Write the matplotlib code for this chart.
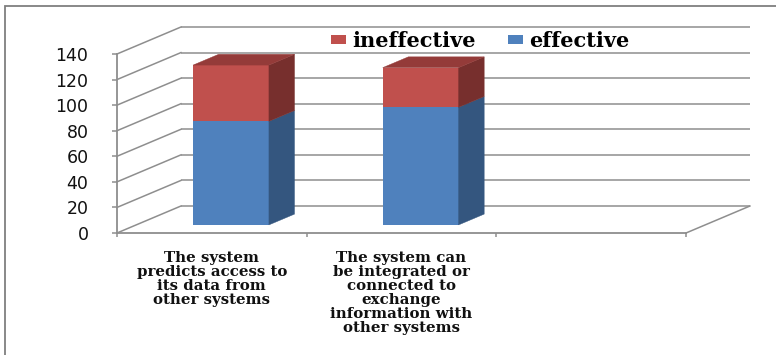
import numpy as np
import matplotlib.pyplot as plt
from matplotlib.patches import Polygon, Rectangle

# category slots along the floor (the third one is left empty)
categories = [
    "The system\npredicts access to\nits data from\nother systems",
    "The system can\nbe integrated or\nconnected to\nexchange\ninformation with\nother systems",
    "",
]
effective = [81, 92]
ineffective = [44, 31]
yticks = [0, 20, 40, 60, 80, 100, 120, 140]
series_names = ["ineffective", "effective"]

blue, blue_side = "#4F81BD", "#34567F"
red, red_side, red_top = "#C0504D", "#772F2D", "#943B39"
grid = "#8E8E8E"

# oblique depth of the chart box, in data units (categories, values)
DX, DY = 0.337, 21.1
F0, F1 = 0.3, 0.7          # depth of bar front and back faces
BW = 0.4                   # bar width

fig = plt.figure(figsize=(7.76, 3.55), dpi=100)
ax = fig.add_axes([117 / 776, 122 / 355, 569 / 776, 179 / 355])
ax.set_xlim(0, len(categories))
ax.set_ylim(0, yticks[-1])
ax.patch.set_visible(False)

# back wall gridlines and left wall diagonals
x_end = len(categories)
for v in yticks:
    ax.plot([DX, x_end + DX], [v + DY, v + DY], color=grid, lw=1.1,
            clip_on=False, zorder=1, solid_capstyle="butt")
    ax.plot([0, DX], [v, v + DY], color=grid, lw=1.1, clip_on=False, zorder=1)
# floor right edge
ax.plot([x_end, x_end + DX], [0, DY], color=grid, lw=1.1, clip_on=False, zorder=1)

# front faces of the stacked bars
xs = np.arange(len(effective)) + 0.5
xf = xs + F0 * DX
base = F0 * DY
eff = np.array(effective)
ineff = np.array(ineffective)
b_eff = ax.bar(xf, eff, width=BW, bottom=base, color=blue, lw=0, zorder=3, clip_on=False)
b_ineff = ax.bar(xf, ineff, width=BW, bottom=base + eff, color=red, lw=0, zorder=3, clip_on=False)


def face(pts, color):
    ax.add_patch(Polygon(pts, closed=True, facecolor=color, edgecolor=color,
                         lw=0.3, zorder=3, clip_on=False))


d = F1 - F0
for x, e, i in zip(xs, eff, ineff):
    xr = x + BW / 2 + F0 * DX
    xl = x - BW / 2 + F0 * DX
    for y0, y1, c in [(0, e, blue_side), (e, e + i, red_side)]:
        face([(xr, base + y0), (xr + d * DX, base + y0 + d * DY),
              (xr + d * DX, base + y1 + d * DY), (xr, base + y1)], c)
    top = base + e + i
    face([(xl, top), (xr, top), (xr + d * DX, top + d * DY),
          (xl + d * DX, top + d * DY)], red_top)

# axes styling
for side in ["top", "right"]:
    ax.spines[side].set_visible(False)
for side in ["left", "bottom"]:
    ax.spines[side].set_color(grid)
    ax.spines[side].set_linewidth(1.3)
    ax.spines[side].set_zorder(4)

ax.set_yticks(yticks)
ax.tick_params(axis="y", direction="out", length=3.6, width=1.1, color=grid,
               labelsize=12.5, pad=17, labelcolor="#111111")
for lab in ax.get_yticklabels():
    lab.set_family("DejaVu Sans")

ax.set_xticks(range(len(categories) + 1), labels=[""] * (len(categories) + 1))
ax.tick_params(axis="x", which="major", direction="out", length=3, width=1.1, color=grid)
ax.set_xticks(np.arange(len(categories)) + 0.5, labels=categories, minor=True)
ax.tick_params(axis="x", which="minor", length=0, pad=13)
for lab in ax.get_xticklabels(minor=True):
    lab.set_family("DejaVu Serif")
    lab.set_weight("bold")
    lab.set_fontsize(10.8)
    lab.set_linespacing(1.0)
    lab.set_color("#111111")

leg = ax.legend([b_ineff, b_eff], series_names, loc="center left",
                bbox_to_anchor=(331 / 776, 1 - 41 / 355), bbox_transform=fig.transFigure,
                ncol=2, frameon=False, borderpad=0, borderaxespad=0,
                handlelength=0.72, handleheight=0.35, handletextpad=0.3,
                columnspacing=1.55,
                prop={"family": "DejaVu Serif", "weight": "bold", "size": 15})

# outer chart border, running off the right and bottom edges
fig.patches.append(Rectangle((5 / 776, -0.1), 1.2, 0.1 + (355 - 6) / 355,
                             transform=fig.transFigure, fill=False,
                             edgecolor="#7F7F7F", lw=1.3))

fig.savefig("out.png", dpi=100)
